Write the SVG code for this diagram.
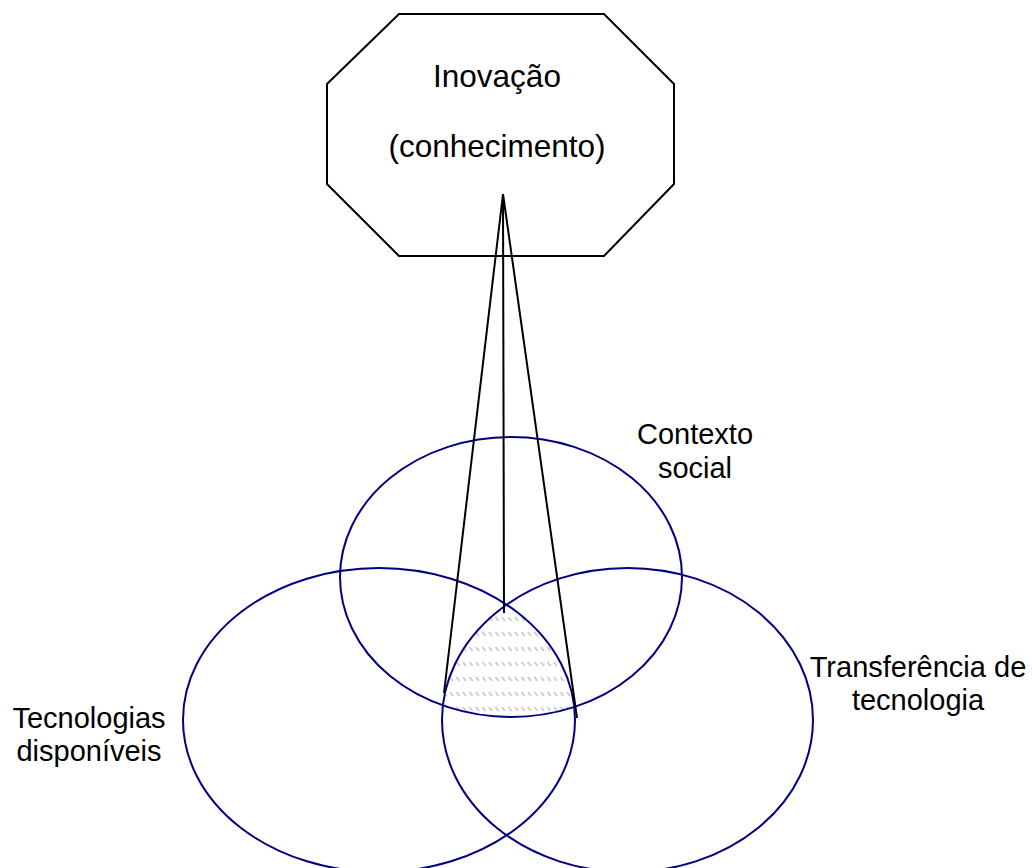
<svg xmlns="http://www.w3.org/2000/svg" width="1032" height="868" viewBox="0 0 1032 868">
  <style>
    .label { font-family: "Liberation Sans", Arial, sans-serif; font-size: 29px; fill: #000; text-anchor: middle; }
    .big { font-size: 31.5px; }
    .set { fill: none; stroke: #000080; stroke-width: 2; }
    .box { fill: #fff; stroke: #000; stroke-width: 2; }
    .link { stroke: #000; stroke-width: 2; fill: none; }
  </style>
  <defs>
    <pattern id="hatch" patternUnits="userSpaceOnUse" width="6.5" height="15">
      <line x1="1.5" y1="2" x2="4.5" y2="6" stroke="#c4c4c4" stroke-width="1.6"/>
    </pattern>
    <clipPath id="clipLeft"><ellipse cx="379" cy="720" rx="196" ry="152"/></clipPath>
    <clipPath id="clipRight"><ellipse cx="627.5" cy="720" rx="185.5" ry="152"/></clipPath>
    <clipPath id="clipTop"><ellipse cx="511" cy="577" rx="171" ry="140"/></clipPath>
  </defs>

  <rect width="1032" height="868" fill="#fff"/>

  <!-- shared area of the three sets -->
  <g id="overlap" clip-path="url(#clipLeft)">
    <g clip-path="url(#clipRight)">
      <g clip-path="url(#clipTop)">
        <rect x="430" y="590" width="160" height="140" fill="url(#hatch)"/>
      </g>
    </g>
  </g>

  <g id="inovacao">
    <polygon class="box" points="399,14 604,14 674,84 674,184 604,256 399,256 327,184 327,84"/>
    <text class="label big" x="497" y="87">Inovação</text>
    <text class="label big" x="497" y="157">(conhecimento)</text>
  </g>

  <g id="contexto-social">
    <ellipse class="set" cx="511" cy="577" rx="171" ry="140"/>
    <text class="label" x="695" y="444">Contexto</text>
    <text class="label" x="695" y="478">social</text>
  </g>

  <g id="tecnologias-disponiveis">
    <ellipse class="set" cx="379" cy="720" rx="196" ry="152"/>
    <text class="label" x="89" y="728">Tecnologias</text>
    <text class="label" x="89" y="761">disponíveis</text>
  </g>

  <g id="transferencia-tecnologia">
    <ellipse class="set" cx="627.5" cy="720" rx="185.5" ry="152"/>
    <text class="label" x="918" y="677">Transferência de</text>
    <text class="label" x="918" y="710">tecnologia</text>
  </g>

  <g id="connectors">
    <line class="link" x1="503" y1="194" x2="444" y2="693"/>
    <line class="link" x1="503" y1="194" x2="504" y2="613"/>
    <line class="link" x1="503" y1="194" x2="577" y2="718"/>
  </g>
</svg>
